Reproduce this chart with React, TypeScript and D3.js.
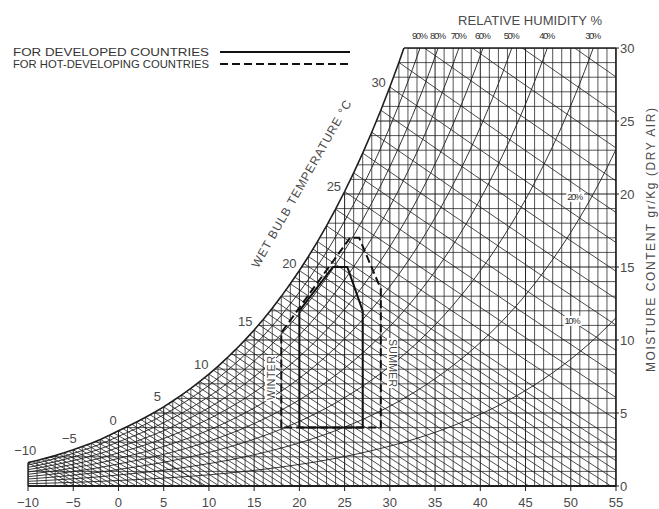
import React from "react";
import * as d3 from "d3";

// ---- data ----
const dryBulbTicks = [-10, -5, 0, 5, 10, 15, 20, 25, 30, 35, 40, 45, 50, 55];
const moistureTicks = [0, 5, 10, 15, 20, 25, 30];
const satTemps = [
  -10, -9, -8, -7, -6, -5, -4, -3, -2, -1, 0, 1, 2, 3, 4, 5, 6, 7, 8, 9, 10,
  11, 12, 13, 14, 15, 16, 17, 18, 19, 20, 21, 22, 23, 24, 25, 26, 27, 28, 29, 30,
  31, 32, 33, 34, 35, 36, 37, 38, 39, 40, 41, 42, 43, 44, 45, 46, 47, 48, 49, 50,
  51, 52, 53, 54, 55,
];
const satMoisture = [
  1.6, 1.75, 1.91, 2.08, 2.27, 2.48, 2.7, 2.93, 3.19, 3.47, 3.78, 4.08, 4.38,
  4.71, 5.05, 5.42, 5.82, 6.24, 6.68, 7.16, 7.66, 8.2, 8.77, 9.37, 10.01, 10.69,
  11.41, 12.18, 12.99, 13.85, 14.76, 15.72, 16.74, 17.82, 18.96, 20.17, 21.45,
  22.8, 24.23, 25.74, 27.33, 29.01, 30.79, 32.67, 34.66, 36.76, 38.97, 41.31,
  43.78, 46.39, 49.14, 52.05, 55.12, 58.37, 61.79, 65.41, 69.24, 73.28, 77.56,
  82.08, 86.86, 91.92, 97.27, 102.95, 108.95, 115.32,
];
const dryBulbGrid = d3.range(-10, 56, 1);
const moistureGrid = d3.range(0, 31, 1);
const rhLevels = [10, 20, 30, 40, 50, 60, 70, 80, 90];
const rhTopLabels = [90, 80, 70, 60, 50, 40, 30];
const wetBulbTemps = [...d3.range(-10, 22.5, 0.5), ...d3.range(23, 36, 1)];
const wetBulbLabels = [-10, -5, 0, 5, 10, 15, 20, 25, 30];
const developedZone: [number, number][] = [
  [20, 4], [20, 12], [23.7, 15], [25.3, 15], [27, 12], [27, 4],
];
const hotZone: [number, number][] = [
  [18, 4], [18, 10.5], [25.6, 17], [26.6, 17], [29, 13.5], [29, 4],
];
const legendItems = ["FOR DEVELOPED COUNTRIES", "FOR HOT-DEVELOPING COUNTRIES"];

// ---- layout ----
const W = 659;
const H = 509;
const x = d3.scaleLinear().domain([-10, 55]).range([28, 616]);
const y = d3.scaleLinear().domain([0, 30]).range([486, 48]);
const satAt = d3.scaleLinear().domain(satTemps).range(satMoisture);

function wetBulbW(tw: number, t: number) {
  const ws = satAt(tw) / 1000;
  let w;
  if (tw >= 0)
    w = ((2501 - 2.326 * tw) * ws - 1.006 * (t - tw)) / (2501 + 1.86 * t - 4.186 * tw);
  else
    w = ((2830 - 0.24 * tw) * ws - 1.006 * (t - tw)) / (2830 + 1.86 * t - 2.1 * tw);
  return w * 1000;
}

const minus = (v: number) => (v < 0 ? "\u2212" + Math.abs(v) : String(v));

export default function App() {
  const line = d3
    .line<[number, number]>()
    .x((d) => x(d[0]))
    .y((d) => y(d[1]));
  const satPts: [number, number][] = satTemps.map((t, i) => [t, satMoisture[i]]);
  const regionPts: [number, number][] = [
    [-10, 0],
    ...satPts.map(([t, w]) => [t, Math.min(w, 30)] as [number, number]),
    [55, 0],
  ];
  const regionPath = line(regionPts) + "Z";
  const ink = "#1e1e1e";
  const txt = "#4a4a4a";

  const rhPaths = rhLevels.map((rh) =>
    d3
      .line<[number, number]>()
      .x((d) => x(d[0]))
      .y((d) => y(d[1]))
      .curve(d3.curveMonotoneX)(satPts.map(([t, w]) => [t, (w * rh) / 100]))
  );
  const wbPaths = wetBulbTemps.map((tw) =>
    line(d3.range(0, 8).map((k) => [tw + k * 10, wetBulbW(tw, tw + k * 10)] as [number, number]))
  );

  const labelPos = (tw: number) => {
    const p = [x(tw), y(satAt(tw))];
    const a = [x(tw - 0.5), y(satAt(tw - 0.5))];
    const b = [x(tw + 0.5), y(satAt(tw + 0.5))];
    const dx = b[0] - a[0];
    const dy = b[1] - a[1];
    const len = Math.hypot(dx, dy);
    const off = 12;
    return [p[0] + (dy / len) * off, p[1] - (dx / len) * off];
  };

  const rhTopX = (rh: number) => {
    const inv = d3.scaleLinear().domain(satMoisture.map((v) => (v * rh) / 100)).range(satTemps);
    return x(inv(30));
  };

  const sideLabels: [string, number, number][] = [
    ["20%", 50.5, 19.6],
    ["10%", 50.2, 11.1],
  ];

  return (
    <svg
      width={W}
      height={H}
      style={{ position: "absolute", left: 0, top: 0, background: "#fff" }}
      fontFamily="'Liberation Sans', Arial, sans-serif"
    >
      <defs>
        <clipPath id="region">
          <path d={regionPath} />
        </clipPath>
        <clipPath id="rect">
          <rect x={x(-10)} y={y(30)} width={x(55) - x(-10)} height={y(0) - y(30)} />
        </clipPath>
      </defs>
      <rect width={W} height={H} fill="#fff" />

      <g clipPath="url(#region)" stroke={ink} fill="none">
        {dryBulbGrid.map((t) => (
          <line key={"v" + t} x1={x(t)} x2={x(t)} y1={y(0)} y2={y(30)} strokeWidth={t % 5 === 0 ? 1 : 0.75} />
        ))}
        {moistureGrid.map((m) => (
          <line key={"h" + m} x1={x(-10)} x2={x(55)} y1={y(m)} y2={y(m)} strokeWidth={m % 5 === 0 ? 1.1 : 0.75} />
        ))}
        {rhPaths.map((d, i) => (
          <path key={"rh" + i} d={d || ""} strokeWidth={0.9} />
        ))}
        {wbPaths.map((d, i) => (
          <path key={"wb" + i} d={d || ""} strokeWidth={0.8} />
        ))}
      </g>

      {/* saturation curve and frame */}
      <g clipPath="url(#rect)" fill="none" stroke={ink}>
        <path d={line(satPts) || ""} strokeWidth={1.6} />
      </g>
      <line x1={x(-10)} x2={x(55)} y1={y(0)} y2={y(0)} stroke={ink} strokeWidth={2.2} />
      <line x1={x(55)} x2={x(55)} y1={y(0)} y2={y(30)} stroke={ink} strokeWidth={1.6} />
      <line x1={x(-10)} x2={x(-10)} y1={y(0)} y2={y(satMoisture[0])} stroke={ink} strokeWidth={1.4} />
      <line
        x1={x(d3.scaleLinear().domain(satMoisture).range(satTemps)(30))}
        x2={x(55)}
        y1={y(30)}
        y2={y(30)}
        stroke={ink}
        strokeWidth={1.6}
      />
      {dryBulbTicks.map((t) => (
        <line key={"bt" + t} x1={x(t)} x2={x(t)} y1={y(0)} y2={y(0) + 5} stroke={ink} strokeWidth={1} />
      ))}
      {moistureTicks.map((m) => (
        <line key={"rt" + m} x1={x(55)} x2={x(55) + 3} y1={y(m)} y2={y(m)} stroke={ink} strokeWidth={1} />
      ))}

      {/* comfort zones */}
      <path d={line(developedZone) + "Z"} fill="none" stroke="#111" strokeWidth={2} strokeLinejoin="round" />
      <path d={line(hotZone) + "Z"} fill="none" stroke="#111" strokeWidth={2} strokeDasharray="8,4" />

      {/* WINTER / SUMMER */}
      <rect x={265} y={355} width={11} height={46} fill="#fff" />
      <text transform={`translate(274.5,378) rotate(-90)`} textAnchor="middle" fontSize={10.5} fill={txt} textLength={44}>
        WINTER
      </text>
      <rect x={387} y={338} width={11} height={50} fill="#fff" />
      <text transform={`translate(389,363) rotate(90)`} textAnchor="middle" fontSize={10.5} fill={txt} textLength={48}>
        SUMMER
      </text>

      {/* bottom axis labels */}
      {dryBulbTicks.map((t) => (
        <text key={"bl" + t} x={x(t)} y={507} textAnchor="middle" fontSize={13} fill={txt}>
          {minus(t)}
        </text>
      ))}
      {/* right axis labels */}
      {moistureTicks.map((m) => (
        <text key={"rl" + m} x={620} y={y(m) + 5} fontSize={13} fill={txt}>
          {m}
        </text>
      ))}
      <text
        transform={`translate(655,240) rotate(-90)`}
        textAnchor="middle"
        fontSize={12}
        fill={txt}
        textLength={264}
      >
        MOISTURE CONTENT gr/Kg (DRY AIR)
      </text>

      {/* wet bulb labels */}
      {wetBulbLabels.map((tw) => {
        const [lx, ly] = labelPos(tw);
        return (
          <text key={"wl" + tw} x={lx} y={ly + 4.5} textAnchor="middle" fontSize={13} fill={txt}>
            {minus(tw)}
          </text>
        );
      })}
      <text transform="translate(305,186) rotate(-60.5)" textAnchor="middle" fontSize={12} fill={txt} textLength={190}>
        WET BULB TEMPERATURE °C
      </text>

      {/* relative humidity labels */}
      <text x={458} y={25} fontSize={13} fill={txt} textLength={144}>
        RELATIVE HUMIDITY %
      </text>
      {rhTopLabels.map((rh) => (
        <text key={"rh" + rh} x={rhTopX(rh)} y={38.5} textAnchor="middle" fontSize={9.5} fill="#333" textLength={16}>
          {rh + "%"}
        </text>
      ))}
      {sideLabels.map(([lab, t, w]) => (
        <g key={lab}>
          <rect x={x(t) - 9} y={y(w) - 8} width={18} height={10} fill="#fff" />
          <text x={x(t)} y={y(w)} textAnchor="middle" fontSize={9.5} fill="#333" textLength={16}>
            {lab}
          </text>
        </g>
      ))}

      {/* legend */}
      {legendItems.map((lab, i) => (
        <g key={lab}>
          <text x={13} y={56 + i * 12} fontSize={11} fill="#333" textLength={196} lengthAdjust="spacingAndGlyphs">
            {lab}
          </text>
          <line
            x1={220}
            x2={350}
            y1={52 + i * 12}
            y2={52 + i * 12}
            stroke="#111"
            strokeWidth={2}
            strokeDasharray={i === 1 ? "8,4" : undefined}
          />
        </g>
      ))}
    </svg>
  );
}
